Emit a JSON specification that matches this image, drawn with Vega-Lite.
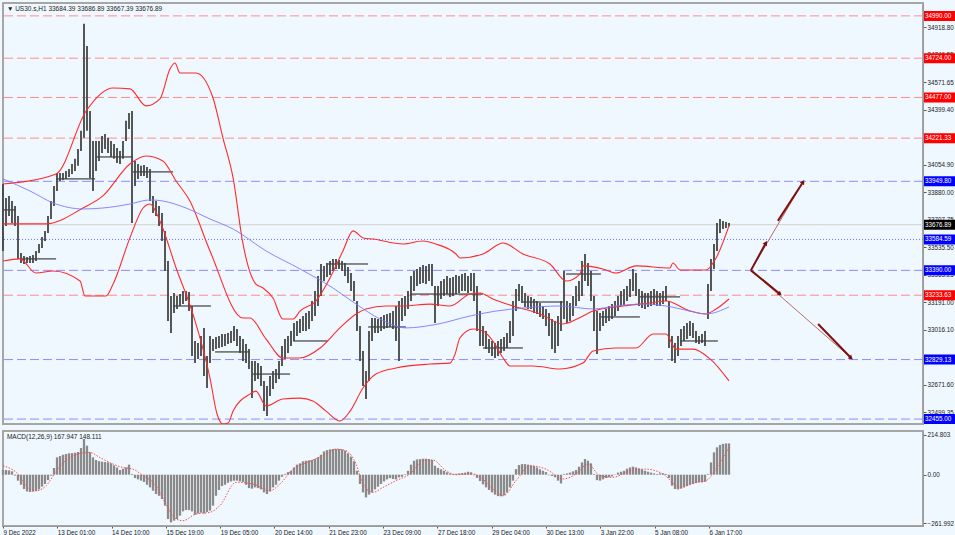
{
  "$schema": "https://vega.github.io/schema/vega-lite/v6.json",
  "background": "#F0F8FF",
  "padding": {"left": 0, "top": 2, "right": 0, "bottom": 0},
  "spacing": 4,
  "config": {
    "font": "Liberation Sans",
    "view": {"fill": "#F0F8FF", "stroke": "#a6a6a6", "strokeWidth": 2},
    "axis": {"labelFont": "Liberation Sans", "labelFontSize": 6.3, "labelColor": "#222222", "domainColor": "#9a9a9a", "tickColor": "#555555", "tickSize": 3, "grid": false, "title": null, "labelOverlap": false, "labelBound": false, "labelFlush": false},
    "axisQuantitative": {"labelOverlap": false}
  },
  "datasets": {
    "bars": [
      {"i":0,"h":33933,"l":33512,"m":25},{"i":1,"h":33845,"l":33669,"m":25},{"i":2,"h":33858,"l":33732,"m":23},{"i":3,"h":33826,"l":33688,"m":18},{"i":4,"h":33795,"l":33669,"m":-5},
      {"i":5,"h":33732,"l":33462,"m":-32},{"i":6,"h":33499,"l":33436,"m":-54},{"i":7,"h":33480,"l":33430,"m":-77},{"i":8,"h":33474,"l":33436,"m":-90},{"i":9,"h":33480,"l":33436,"m":-93},
      {"i":10,"h":33487,"l":33436,"m":-91},{"i":11,"h":33512,"l":33449,"m":-88},{"i":12,"h":33556,"l":33499,"m":-79},{"i":13,"h":33600,"l":33531,"m":-64},{"i":14,"h":33638,"l":33575,"m":-50},
      {"i":15,"h":33732,"l":33625,"m":-29},{"i":16,"h":33826,"l":33713,"m":-5},{"i":17,"h":33921,"l":33795,"m":36},{"i":18,"h":34002,"l":33889,"m":93},{"i":19,"h":34002,"l":33952,"m":100},
      {"i":20,"h":34002,"l":33958,"m":107},{"i":21,"h":34015,"l":33965,"m":111},{"i":22,"h":34028,"l":33977,"m":115},{"i":23,"h":34059,"l":33996,"m":116},{"i":24,"h":34091,"l":34015,"m":118},
      {"i":25,"h":34153,"l":34047,"m":122},{"i":26,"h":34267,"l":34141,"m":143},{"i":27,"h":34940,"l":34223,"m":192},{"i":28,"h":34801,"l":34267,"m":156},{"i":29,"h":34392,"l":33971,"m":120},
      {"i":30,"h":34204,"l":33889,"m":93},{"i":31,"h":34204,"l":34015,"m":79},{"i":32,"h":34204,"l":34078,"m":73},{"i":33,"h":34235,"l":34128,"m":70},{"i":34,"h":34248,"l":34153,"m":68},
      {"i":35,"h":34223,"l":34128,"m":66},{"i":36,"h":34204,"l":34103,"m":61},{"i":37,"h":34185,"l":34091,"m":50},{"i":38,"h":34160,"l":34065,"m":39},{"i":39,"h":34141,"l":34059,"m":25},
      {"i":40,"h":34204,"l":34091,"m":32},{"i":41,"h":34330,"l":34204,"m":39},{"i":42,"h":34380,"l":34279,"m":54},{"i":43,"h":34392,"l":33688,"m":4},{"i":44,"h":34078,"l":33921,"m":-18},
      {"i":45,"h":34059,"l":33965,"m":-25},{"i":46,"h":34047,"l":33984,"m":-32},{"i":47,"h":34053,"l":33984,"m":-39},{"i":48,"h":34040,"l":33971,"m":-54},{"i":49,"h":34028,"l":33826,"m":-68},
      {"i":50,"h":33858,"l":33751,"m":-86},{"i":51,"h":33826,"l":33732,"m":-104},{"i":52,"h":33795,"l":33669,"m":-113},{"i":53,"h":33751,"l":33575,"m":-131},{"i":54,"h":33638,"l":33386,"m":-166},
      {"i":55,"h":33449,"l":33072,"m":-238},{"i":56,"h":33229,"l":32996,"m":-256},{"i":57,"h":33248,"l":33122,"m":-247},{"i":58,"h":33229,"l":33147,"m":-238},{"i":59,"h":33241,"l":33166,"m":-220},
      {"i":60,"h":33260,"l":33178,"m":-197},{"i":61,"h":33260,"l":33197,"m":-190},{"i":62,"h":33254,"l":33134,"m":-190},{"i":63,"h":33166,"l":32851,"m":-197},{"i":64,"h":32946,"l":32807,"m":-215},
      {"i":65,"h":32933,"l":32833,"m":-208},{"i":66,"h":32977,"l":32851,"m":-204},{"i":67,"h":33028,"l":32726,"m":-208},{"i":68,"h":32851,"l":32650,"m":-200},{"i":69,"h":32977,"l":32807,"m":-193},
      {"i":70,"h":32958,"l":32883,"m":-166},{"i":71,"h":32971,"l":32895,"m":-113},{"i":72,"h":32977,"l":32902,"m":-82},{"i":73,"h":32990,"l":32908,"m":-61},{"i":74,"h":32990,"l":32914,"m":-54},
      {"i":75,"h":32996,"l":32927,"m":-43},{"i":76,"h":33009,"l":32933,"m":-36},{"i":77,"h":33040,"l":32946,"m":-32},{"i":78,"h":33021,"l":32914,"m":-32},{"i":79,"h":32977,"l":32870,"m":-36},
      {"i":80,"h":32958,"l":32820,"m":-39},{"i":81,"h":32927,"l":32807,"m":-54},{"i":82,"h":32895,"l":32770,"m":-72},{"i":83,"h":32820,"l":32587,"m":-75},{"i":84,"h":32820,"l":32694,"m":-68},
      {"i":85,"h":32807,"l":32707,"m":-72},{"i":86,"h":32789,"l":32663,"m":-79},{"i":87,"h":32694,"l":32505,"m":-95},{"i":88,"h":32663,"l":32474,"m":-104},{"i":89,"h":32726,"l":32600,"m":-90},
      {"i":90,"h":32757,"l":32644,"m":-68},{"i":91,"h":32770,"l":32682,"m":-54},{"i":92,"h":32820,"l":32707,"m":-32},{"i":93,"h":32914,"l":32789,"m":-11},{"i":94,"h":32958,"l":32833,"m":4},
      {"i":95,"h":32977,"l":32870,"m":14},{"i":96,"h":33009,"l":32914,"m":21},{"i":97,"h":33059,"l":32946,"m":39},{"i":98,"h":33072,"l":32977,"m":54},{"i":99,"h":33084,"l":32996,"m":61},
      {"i":100,"h":33103,"l":33009,"m":72},{"i":101,"h":33122,"l":33009,"m":75},{"i":102,"h":33134,"l":33021,"m":77},{"i":103,"h":33197,"l":33072,"m":79},{"i":104,"h":33260,"l":33103,"m":84},
      {"i":105,"h":33355,"l":33166,"m":93},{"i":106,"h":33430,"l":33229,"m":107},{"i":107,"h":33418,"l":33323,"m":125},{"i":108,"h":33436,"l":33348,"m":132},{"i":109,"h":33449,"l":33361,"m":136},
      {"i":110,"h":33462,"l":33386,"m":138},{"i":111,"h":33462,"l":33399,"m":138},{"i":112,"h":33455,"l":33399,"m":138},{"i":113,"h":33449,"l":33386,"m":136},{"i":114,"h":33436,"l":33355,"m":129},
      {"i":115,"h":33411,"l":33311,"m":115},{"i":116,"h":33373,"l":33260,"m":97},{"i":117,"h":33323,"l":33197,"m":72},{"i":118,"h":33197,"l":33009,"m":21},{"i":119,"h":33040,"l":32820,"m":-50},
      {"i":120,"h":32883,"l":32663,"m":-95},{"i":121,"h":32757,"l":32581,"m":-122},{"i":122,"h":33009,"l":32694,"m":-107},{"i":123,"h":33090,"l":32946,"m":-95},{"i":124,"h":33090,"l":32996,"m":-79},
      {"i":125,"h":33084,"l":32996,"m":-64},{"i":126,"h":33097,"l":33009,"m":-50},{"i":127,"h":33109,"l":33021,"m":-36},{"i":128,"h":33116,"l":33028,"m":-25},{"i":129,"h":33122,"l":33034,"m":-18},
      {"i":130,"h":33134,"l":33021,"m":-23},{"i":131,"h":33166,"l":32946,"m":-25},{"i":132,"h":33197,"l":32820,"m":-14},{"i":133,"h":33216,"l":33072,"m":-11},{"i":134,"h":33229,"l":33103,"m":3},
      {"i":135,"h":33260,"l":33147,"m":21},{"i":136,"h":33355,"l":33197,"m":54},{"i":137,"h":33386,"l":33260,"m":75},{"i":138,"h":33399,"l":33292,"m":82},{"i":139,"h":33411,"l":33304,"m":84},
      {"i":140,"h":33424,"l":33311,"m":86},{"i":141,"h":33418,"l":33304,"m":86},{"i":142,"h":33430,"l":33323,"m":84},{"i":143,"h":33430,"l":33292,"m":79},{"i":144,"h":33292,"l":33059,"m":48},
      {"i":145,"h":33292,"l":33166,"m":36},{"i":146,"h":33323,"l":33210,"m":29},{"i":147,"h":33336,"l":33229,"m":21},{"i":148,"h":33355,"l":33241,"m":13},{"i":149,"h":33342,"l":33223,"m":7},
      {"i":150,"h":33348,"l":33229,"m":4},{"i":151,"h":33361,"l":33241,"m":5},{"i":152,"h":33355,"l":33248,"m":7},{"i":153,"h":33367,"l":33260,"m":9},{"i":154,"h":33373,"l":33260,"m":11},
      {"i":155,"h":33355,"l":33248,"m":16},{"i":156,"h":33373,"l":33260,"m":13},{"i":157,"h":33373,"l":33197,"m":-3},{"i":158,"h":33292,"l":33009,"m":-17},{"i":159,"h":33134,"l":32914,"m":-34},
      {"i":160,"h":33040,"l":32914,"m":-52},{"i":161,"h":33009,"l":32895,"m":-68},{"i":162,"h":32958,"l":32870,"m":-82},{"i":163,"h":32946,"l":32851,"m":-95},{"i":164,"h":32933,"l":32839,"m":-107},
      {"i":165,"h":32946,"l":32851,"m":-115},{"i":166,"h":32958,"l":32870,"m":-116},{"i":167,"h":32971,"l":32883,"m":-111},{"i":168,"h":32996,"l":32902,"m":-95},{"i":169,"h":33072,"l":32933,"m":-68},
      {"i":170,"h":33197,"l":32977,"m":-32},{"i":171,"h":33273,"l":33134,"m":30},{"i":172,"h":33304,"l":33197,"m":52},{"i":173,"h":33292,"l":33185,"m":57},{"i":174,"h":33248,"l":33160,"m":57},
      {"i":175,"h":33229,"l":33147,"m":54},{"i":176,"h":33223,"l":33147,"m":50},{"i":177,"h":33210,"l":33122,"m":47},{"i":178,"h":33197,"l":33116,"m":39},{"i":179,"h":33185,"l":33097,"m":29},
      {"i":180,"h":33166,"l":33084,"m":21},{"i":181,"h":33147,"l":33040,"m":14},{"i":182,"h":33122,"l":32977,"m":-3},{"i":183,"h":33084,"l":32895,"m":-7},{"i":184,"h":33072,"l":32870,"m":-14},
      {"i":185,"h":33103,"l":32914,"m":-32},{"i":186,"h":33197,"l":33009,"m":-47},{"i":187,"h":33386,"l":33084,"m":4},{"i":188,"h":33197,"l":33059,"m":7},{"i":189,"h":33185,"l":33072,"m":11},
      {"i":190,"h":33229,"l":33103,"m":18},{"i":191,"h":33292,"l":33166,"m":25},{"i":192,"h":33323,"l":33197,"m":43},{"i":193,"h":33449,"l":33229,"m":66},{"i":194,"h":33493,"l":33323,"m":84},
      {"i":195,"h":33436,"l":33292,"m":75},{"i":196,"h":33386,"l":33197,"m":61},{"i":197,"h":33229,"l":33009,"m":4},{"i":198,"h":33134,"l":32864,"m":-29},{"i":199,"h":33122,"l":33009,"m":-32},
      {"i":200,"h":33134,"l":33040,"m":-25},{"i":201,"h":33147,"l":33059,"m":-18},{"i":202,"h":33166,"l":33072,"m":-14},{"i":203,"h":33178,"l":33084,"m":-9},{"i":204,"h":33197,"l":33103,"m":2},
      {"i":205,"h":33229,"l":33134,"m":11},{"i":206,"h":33260,"l":33166,"m":16},{"i":207,"h":33273,"l":33172,"m":21},{"i":208,"h":33292,"l":33197,"m":32},{"i":209,"h":33336,"l":33223,"m":39},
      {"i":210,"h":33399,"l":33260,"m":43},{"i":211,"h":33373,"l":33229,"m":39},{"i":212,"h":33273,"l":33166,"m":34},{"i":213,"h":33260,"l":33153,"m":29},{"i":214,"h":33248,"l":33147,"m":21},
      {"i":215,"h":33248,"l":33160,"m":16},{"i":216,"h":33260,"l":33166,"m":11},{"i":217,"h":33273,"l":33172,"m":7},{"i":218,"h":33260,"l":33166,"m":4},{"i":219,"h":33248,"l":33166,"m":7},
      {"i":220,"h":33260,"l":33178,"m":7},{"i":221,"h":33292,"l":33197,"m":4},{"i":222,"h":33197,"l":32902,"m":-18},{"i":223,"h":32977,"l":32820,"m":-59},{"i":224,"h":32933,"l":32807,"m":-77},
      {"i":225,"h":32977,"l":32851,"m":-79},{"i":226,"h":33021,"l":32914,"m":-75},{"i":227,"h":33040,"l":32946,"m":-68},{"i":228,"h":33059,"l":32958,"m":-61},{"i":229,"h":33072,"l":32977,"m":-54},
      {"i":230,"h":33059,"l":32965,"m":-50},{"i":231,"h":33009,"l":32933,"m":-45},{"i":232,"h":32977,"l":32927,"m":-41},{"i":233,"h":32990,"l":32933,"m":-41},{"i":234,"h":33009,"l":32914,"m":-38},
      {"i":235,"h":33304,"l":33084,"m":4},{"i":236,"h":33462,"l":33260,"m":66},{"i":237,"h":33556,"l":33399,"m":120},{"i":238,"h":33688,"l":33512,"m":147},{"i":239,"h":33713,"l":33625,"m":160},
      {"i":240,"h":33701,"l":33650,"m":166},{"i":241,"h":33694,"l":33657,"m":168},{"i":242,"h":33687,"l":33667,"m":168}
    ],
    "ind": [
      {"s":"up","i":0,"p":33933},{"s":"up","i":17.7,"p":33996},{"s":"up","i":27.7,"p":34392},{"s":"up","i":36.7,"p":34537},{"s":"up","i":42.3,"p":34531},{"s":"up","i":47.7,"p":34424},{"s":"up","i":52.3,"p":34468},{"s":"up","i":55.7,"p":34657},{"s":"up","i":57.3,"p":34694},{"s":"up","i":59,"p":34631},{"s":"up","i":64.3,"p":34631},{"s":"up","i":70,"p":34474},{"s":"up","i":73.3,"p":34223},{"s":"up","i":76.7,"p":33971},{"s":"up","i":80,"p":33556},{"s":"up","i":84.3,"p":33304},{"s":"up","i":86.7,"p":33279},{"s":"up","i":90,"p":33216},{"s":"up","i":93.3,"p":33084},{"s":"up","i":96.7,"p":33084},{"s":"up","i":99,"p":33134},{"s":"up","i":104.3,"p":33197},{"s":"up","i":109,"p":33342},{"s":"up","i":113.3,"p":33512},{"s":"up","i":116.7,"p":33638},{"s":"up","i":120,"p":33594},{"s":"up","i":123.3,"p":33587},{"s":"up","i":133.3,"p":33556},{"s":"up","i":140,"p":33575},{"s":"up","i":144.3,"p":33556},{"s":"up","i":151,"p":33493},{"s":"up","i":152.3,"p":33468},{"s":"up","i":160,"p":33493},{"s":"up","i":166.7,"p":33562},{"s":"up","i":173.3,"p":33493},{"s":"up","i":182.3,"p":33430},{"s":"up","i":187.7,"p":33323},{"s":"up","i":192.3,"p":33367},{"s":"up","i":193.3,"p":33418},{"s":"up","i":200,"p":33399},{"s":"up","i":204.3,"p":33373},{"s":"up","i":211,"p":33418},{"s":"up","i":222.3,"p":33405},{"s":"up","i":223.3,"p":33436},{"s":"up","i":225.7,"p":33392},{"s":"up","i":234.3,"p":33392},{"s":"up","i":237.7,"p":33468},{"s":"up","i":242,"p":33670},
      {"s":"mid","i":0,"p":33682},{"s":"mid","i":14.3,"p":33682},{"s":"mid","i":26.7,"p":33782},{"s":"mid","i":33.3,"p":33858},{"s":"mid","i":42.3,"p":34059},{"s":"mid","i":47.7,"p":34109},{"s":"mid","i":53.3,"p":34078},{"s":"mid","i":57.7,"p":33952},{"s":"mid","i":62.3,"p":33826},{"s":"mid","i":69,"p":33512},{"s":"mid","i":80,"p":33090},{"s":"mid","i":82.3,"p":33090},{"s":"mid","i":87.7,"p":32958},{"s":"mid","i":93.3,"p":32839},{"s":"mid","i":99,"p":32839},{"s":"mid","i":105.7,"p":32902},{"s":"mid","i":112.3,"p":33028},{"s":"mid","i":117.7,"p":33116},{"s":"mid","i":121,"p":33147},{"s":"mid","i":127.7,"p":33166},{"s":"mid","i":133.3,"p":33166},{"s":"mid","i":142.3,"p":33178},{"s":"mid","i":149,"p":33166},{"s":"mid","i":155.7,"p":33241},{"s":"mid","i":159,"p":33248},{"s":"mid","i":163.3,"p":33210},{"s":"mid","i":170,"p":33166},{"s":"mid","i":179,"p":33116},{"s":"mid","i":186.7,"p":33053},{"s":"mid","i":193.3,"p":33103},{"s":"mid","i":196.7,"p":33134},{"s":"mid","i":206.7,"p":33166},{"s":"mid","i":215.7,"p":33185},{"s":"mid","i":221,"p":33197},{"s":"mid","i":229,"p":33134},{"s":"mid","i":234.3,"p":33116},{"s":"mid","i":237.7,"p":33147},{"s":"mid","i":242,"p":33210},
      {"s":"low","i":0,"p":33449},{"s":"low","i":5.7,"p":33462},{"s":"low","i":11,"p":33373},{"s":"low","i":16.7,"p":33386},{"s":"low","i":25.7,"p":33323},{"s":"low","i":27.3,"p":33229},{"s":"low","i":34.3,"p":33229},{"s":"low","i":36.7,"p":33304},{"s":"low","i":42.3,"p":33594},{"s":"low","i":46.7,"p":33782},{"s":"low","i":49,"p":33807},{"s":"low","i":52.3,"p":33701},{"s":"low","i":57.7,"p":33405},{"s":"low","i":63.3,"p":33116},{"s":"low","i":69,"p":32713},{"s":"low","i":71.3,"p":32490},{"s":"low","i":73.3,"p":32424},{"s":"low","i":75,"p":32430},{"s":"low","i":76.7,"p":32505},{"s":"low","i":82.3,"p":32612},{"s":"low","i":84.3,"p":32631},{"s":"low","i":87.7,"p":32537},{"s":"low","i":93.3,"p":32581},{"s":"low","i":99,"p":32587},{"s":"low","i":103.3,"p":32568},{"s":"low","i":107.7,"p":32505},{"s":"low","i":112.3,"p":32443},{"s":"low","i":115.7,"p":32505},{"s":"low","i":120,"p":32650},{"s":"low","i":124.3,"p":32738},{"s":"low","i":131,"p":32776},{"s":"low","i":142.3,"p":32801},{"s":"low","i":149,"p":32807},{"s":"low","i":150.7,"p":32864},{"s":"low","i":152.3,"p":32965},{"s":"low","i":156.7,"p":33021},{"s":"low","i":160,"p":33009},{"s":"low","i":163.3,"p":32946},{"s":"low","i":166.7,"p":32839},{"s":"low","i":169,"p":32789},{"s":"low","i":176.7,"p":32789},{"s":"low","i":185.7,"p":32770},{"s":"low","i":193.3,"p":32807},{"s":"low","i":196.7,"p":32883},{"s":"low","i":204.3,"p":32902},{"s":"low","i":211,"p":32902},{"s":"low","i":216.7,"p":32990},{"s":"low","i":221,"p":32990},{"s":"low","i":224.3,"p":32895},{"s":"low","i":230,"p":32895},{"s":"low","i":235.7,"p":32833},{"s":"low","i":242,"p":32695},
      {"s":"ma","i":0,"p":33965},{"s":"ma","i":9,"p":33889},{"s":"ma","i":16.7,"p":33814},{"s":"ma","i":26.7,"p":33776},{"s":"ma","i":33.3,"p":33782},{"s":"ma","i":42.3,"p":33807},{"s":"ma","i":49,"p":33833},{"s":"ma","i":53.3,"p":33826},{"s":"ma","i":61,"p":33782},{"s":"ma","i":69,"p":33713},{"s":"ma","i":76.7,"p":33650},{"s":"ma","i":87.7,"p":33512},{"s":"ma","i":99,"p":33399},{"s":"ma","i":110,"p":33279},{"s":"ma","i":117.7,"p":33178},{"s":"ma","i":125.7,"p":33084},{"s":"ma","i":134.3,"p":33028},{"s":"ma","i":144.3,"p":33050},{"s":"ma","i":155.7,"p":33103},{"s":"ma","i":164.3,"p":33134},{"s":"ma","i":173.3,"p":33153},{"s":"ma","i":185.7,"p":33166},{"s":"ma","i":196.7,"p":33147},{"s":"ma","i":204.3,"p":33166},{"s":"ma","i":213.3,"p":33178},{"s":"ma","i":221,"p":33166},{"s":"ma","i":229,"p":33134},{"s":"ma","i":234.3,"p":33116},{"s":"ma","i":242,"p":33160}
    ],
    "seg": [
      {"a":0,"b":4.3,"p":33770},{"a":5.7,"b":17.7,"p":33462},{"a":17.7,"b":30.7,"p":33965},{"a":31,"b":43.3,"p":34103},{"a":43.3,"b":56.7,"p":34009},{"a":56.7,"b":69.3,"p":33166},
      {"a":70.7,"b":82.3,"p":32877},{"a":83.3,"b":95.7,"p":32738},{"a":96.7,"b":108.3,"p":32946},{"a":108.3,"b":121.7,"p":33430},{"a":121.7,"b":134.3,"p":33034},{"a":135.7,"b":160,"p":33241},
      {"a":160,"b":173.3,"p":32902},{"a":173.3,"b":186.7,"p":33191},{"a":187.7,"b":199.3,"p":33367},{"a":199.3,"b":212.3,"p":33097},{"a":212.3,"b":225.7,"p":33223},{"a":225.7,"b":238.3,"p":32946}
    ],
    "lvl": [
      {"p":34990,"k":"red"},{"p":34724,"k":"red"},{"p":34477,"k":"red"},{"p":34221.33,"k":"red"},{"p":33949.8,"k":"blue"},{"p":33676.89,"k":"cur"},
      {"p":33584.59,"k":"dot"},{"p":33390,"k":"blue"},{"p":33233.63,"k":"red"},{"p":32829.13,"k":"blue"},{"p":32455,"k":"blue"}
    ],
    "arr": [
      {"i":249.3,"p":33390,"i2":266.7,"p2":33946},
      {"i":249.3,"p":33390,"i2":282.7,"p2":32839}
    ],
    "arrs": [
      {"i":249.3,"p":33390,"i2":254.3,"p2":33562},
      {"i":258.3,"p":33701,"i2":266.7,"p2":33946},
      {"i":249.3,"p":33390,"i2":259,"p2":33241},
      {"i":271.7,"p":33053,"i2":282.7,"p2":32839}
    ],
    "head": [
      {"d":"up","i":266.7,"p":33946},{"d":"up","i":254.3,"p":33562},{"d":"dn","i":282.7,"p":32839},{"d":"dn","i":259,"p":33241}
    ],
    "sig": [
      {"i":0,"v":48},{"i":4.4,"v":13},{"i":8.9,"v":-77},{"i":11.1,"v":-86},{"i":14.4,"v":-59},{"i":17.8,"v":21},{"i":22.2,"v":93},{"i":28.9,"v":120},{"i":32.2,"v":93},{"i":36.7,"v":57},
      {"i":40,"v":39},{"i":43.3,"v":30},{"i":46.7,"v":-5},{"i":51,"v":-59},{"i":54.3,"v":-158},{"i":57.7,"v":-238},{"i":60,"v":-247},{"i":64.3,"v":-211},{"i":69,"v":-202},{"i":72.3,"v":-166},
      {"i":77.7,"v":-41},{"i":83.3,"v":-50},{"i":89,"v":-86},{"i":92.3,"v":-50},{"i":96.7,"v":30},{"i":102.3,"v":72},{"i":107.7,"v":111},{"i":111,"v":138},{"i":114.3,"v":129},{"i":117.7,"v":57},
      {"i":120,"v":-50},{"i":123.3,"v":-95},{"i":126.7,"v":-68},{"i":131,"v":-32},{"i":135.7,"v":4},{"i":140,"v":75},{"i":143.3,"v":79},{"i":147.7,"v":21},{"i":151,"v":0},{"i":156.7,"v":4},
      {"i":160,"v":-25},{"i":163.3,"v":-77},{"i":166.7,"v":-113},{"i":171,"v":-32},{"i":175.7,"v":48},{"i":181,"v":30},{"i":186.7,"v":-23},{"i":191,"v":4},{"i":195,"v":57},{"i":199,"v":-5},
      {"i":203.3,"v":-14},{"i":209,"v":21},{"i":214.3,"v":30},{"i":220,"v":4},{"i":225.7,"v":-68},{"i":231,"v":-41},{"i":234.3,"v":-32},{"i":239,"v":66},{"i":242,"v":148}
    ]
  },
  "vconcat": [
    {
      "width": 920,
      "height": 421,
      "layer": [
        {
          "data": {"name": "lvl"},
          "mark": {"type": "rule", "strokeWidth": 1},
          "encoding": {
            "y": {"field": "p", "type": "quantitative", "scale": {"domain": [32424, 35071], "nice": false, "zero": false},
              "axis": {"orient": "right", "values": [34918.8, 34746.55, 34571.65, 34399.4, 34054.9, 33880, 33707.75, 33535.5, 33363.25, 33191, 33016.1, 32843.85, 32671.6, 32499.35], "format": ".2f", "labelAlign": "left", "labelBaseline": "middle", "labelPadding": 1, "labelOverlap": false}},
            "stroke": {"field": "k", "type": "nominal", "scale": {"domain": ["red", "blue", "dot", "cur"], "range": ["#ff8c8c", "#8c8cff", "#6f6fff", "#cfcfcf"]}, "legend": null},
            "strokeDash": {"field": "k", "type": "nominal", "scale": {"domain": ["red", "blue", "dot", "cur"], "range": [[9, 4], [9, 4], [1, 2], [1, 0]]}, "legend": null}
          }
        },
        {
          "data": {"name": "seg"},
          "mark": {"type": "rule", "color": "#1a1a1a", "strokeWidth": 1},
          "encoding": {
            "x": {"field": "a", "type": "quantitative", "scale": {"domain": [0, 306.67], "nice": false, "zero": false}, "axis": null},
            "x2": {"field": "b"},
            "y": {"field": "p", "type": "quantitative", "axis": {"orient": "right", "values": [34918.8, 34746.55, 34571.65, 34399.4, 34054.9, 33880, 33707.75, 33535.5, 33363.25, 33191, 33016.1, 32843.85, 32671.6, 32499.35], "format": ".2f", "labelAlign": "left", "labelBaseline": "middle", "labelPadding": 1, "labelOverlap": false}}
          }
        },
        {
          "data": {"name": "bars"},
          "mark": {"type": "rule", "color": "#444444", "strokeWidth": 1.8},
          "encoding": {
            "x": {"field": "i", "type": "quantitative", "scale": {"domain": [0, 306.67], "nice": false, "zero": false}, "axis": null},
            "y": {"field": "l", "type": "quantitative", "axis": {"orient": "right", "values": [34918.8, 34746.55, 34571.65, 34399.4, 34054.9, 33880, 33707.75, 33535.5, 33363.25, 33191, 33016.1, 32843.85, 32671.6, 32499.35], "format": ".2f", "labelAlign": "left", "labelBaseline": "middle", "labelPadding": 1, "labelOverlap": false}},
            "y2": {"field": "h"}
          }
        },
        {
          "data": {"name": "ind"},
          "transform": [{"filter": "datum.s != 'ma'"}],
          "mark": {"type": "line", "interpolate": "monotone", "color": "#ff2a2a", "strokeWidth": 1.1, "clip": true},
          "encoding": {
            "x": {"field": "i", "type": "quantitative", "scale": {"domain": [0, 306.67], "nice": false, "zero": false}, "axis": null},
            "y": {"field": "p", "type": "quantitative", "axis": {"orient": "right", "values": [34918.8, 34746.55, 34571.65, 34399.4, 34054.9, 33880, 33707.75, 33535.5, 33363.25, 33191, 33016.1, 32843.85, 32671.6, 32499.35], "format": ".2f", "labelAlign": "left", "labelBaseline": "middle", "labelPadding": 1, "labelOverlap": false}},
            "detail": {"field": "s"}
          }
        },
        {
          "data": {"name": "ind"},
          "transform": [{"filter": "datum.s == 'ma'"}],
          "mark": {"type": "line", "interpolate": "monotone", "color": "#7b7bff", "strokeWidth": 0.9, "clip": true},
          "encoding": {
            "x": {"field": "i", "type": "quantitative", "scale": {"domain": [0, 306.67], "nice": false, "zero": false}, "axis": null},
            "y": {"field": "p", "type": "quantitative", "axis": {"orient": "right", "values": [34918.8, 34746.55, 34571.65, 34399.4, 34054.9, 33880, 33707.75, 33535.5, 33363.25, 33191, 33016.1, 32843.85, 32671.6, 32499.35], "format": ".2f", "labelAlign": "left", "labelBaseline": "middle", "labelPadding": 1, "labelOverlap": false}}
          }
        },
        {
          "data": {"name": "arr"},
          "mark": {"type": "rule", "color": "#b86a6a", "strokeWidth": 1},
          "encoding": {
            "x": {"field": "i", "type": "quantitative", "scale": {"domain": [0, 306.67], "nice": false, "zero": false}, "axis": null},
            "y": {"field": "p", "type": "quantitative", "axis": {"orient": "right", "values": [34918.8, 34746.55, 34571.65, 34399.4, 34054.9, 33880, 33707.75, 33535.5, 33363.25, 33191, 33016.1, 32843.85, 32671.6, 32499.35], "format": ".2f", "labelAlign": "left", "labelBaseline": "middle", "labelPadding": 1, "labelOverlap": false}},
            "x2": {"field": "i2"},
            "y2": {"field": "p2"}
          }
        },
        {
          "data": {"name": "arrs"},
          "mark": {"type": "rule", "color": "#7e1010", "strokeWidth": 2},
          "encoding": {
            "x": {"field": "i", "type": "quantitative", "scale": {"domain": [0, 306.67], "nice": false, "zero": false}, "axis": null},
            "y": {"field": "p", "type": "quantitative", "axis": {"orient": "right", "values": [34918.8, 34746.55, 34571.65, 34399.4, 34054.9, 33880, 33707.75, 33535.5, 33363.25, 33191, 33016.1, 32843.85, 32671.6, 32499.35], "format": ".2f", "labelAlign": "left", "labelBaseline": "middle", "labelPadding": 1, "labelOverlap": false}},
            "x2": {"field": "i2"},
            "y2": {"field": "p2"}
          }
        },
        {
          "data": {"name": "head"},
          "transform": [{"filter": "datum.d == 'up'"}],
          "mark": {"type": "point", "shape": "triangle-up", "filled": true, "color": "#7e1010", "opacity": 1, "size": 26, "angle": 31},
          "encoding": {
            "x": {"field": "i", "type": "quantitative", "scale": {"domain": [0, 306.67], "nice": false, "zero": false}, "axis": null},
            "y": {"field": "p", "type": "quantitative", "axis": {"orient": "right", "values": [34918.8, 34746.55, 34571.65, 34399.4, 34054.9, 33880, 33707.75, 33535.5, 33363.25, 33191, 33016.1, 32843.85, 32671.6, 32499.35], "format": ".2f", "labelAlign": "left", "labelBaseline": "middle", "labelPadding": 1, "labelOverlap": false}}
          }
        },
        {
          "data": {"name": "head"},
          "transform": [{"filter": "datum.d == 'dn'"}],
          "mark": {"type": "point", "shape": "triangle-up", "filled": true, "color": "#7e1010", "opacity": 1, "size": 26, "angle": 131},
          "encoding": {
            "x": {"field": "i", "type": "quantitative", "scale": {"domain": [0, 306.67], "nice": false, "zero": false}, "axis": null},
            "y": {"field": "p", "type": "quantitative", "axis": {"orient": "right", "values": [34918.8, 34746.55, 34571.65, 34399.4, 34054.9, 33880, 33707.75, 33535.5, 33363.25, 33191, 33016.1, 32843.85, 32671.6, 32499.35], "format": ".2f", "labelAlign": "left", "labelBaseline": "middle", "labelPadding": 1, "labelOverlap": false}}
          }
        },
        {
          "data": {"name": "lvl"},
          "mark": {"type": "rect", "yOffset": -5, "y2Offset": 5, "clip": false},
          "encoding": {
            "x": {"datum": 307, "type": "quantitative", "scale": {"domain": [0, 306.67], "nice": false, "zero": false}, "axis": null},
            "x2": {"datum": 318},
            "y": {"field": "p", "type": "quantitative", "axis": {"orient": "right", "values": [34918.8, 34746.55, 34571.65, 34399.4, 34054.9, 33880, 33707.75, 33535.5, 33363.25, 33191, 33016.1, 32843.85, 32671.6, 32499.35], "format": ".2f", "labelAlign": "left", "labelBaseline": "middle", "labelPadding": 1, "labelOverlap": false}},
            "y2": {"field": "p"},
            "fill": {"field": "k", "type": "nominal", "scale": {"domain": ["red", "blue", "dot", "cur"], "range": ["#ff0000", "#0000ff", "#0000ff", "#000000"]}, "legend": null}
          }
        },
        {
          "data": {"name": "lvl"},
          "mark": {"type": "text", "align": "left", "baseline": "middle", "color": "#ffffff", "fontSize": 6.3, "dx": 1, "clip": false},
          "encoding": {
            "x": {"datum": 307, "type": "quantitative", "scale": {"domain": [0, 306.67], "nice": false, "zero": false}, "axis": null},
            "y": {"field": "p", "type": "quantitative", "axis": {"orient": "right", "values": [34918.8, 34746.55, 34571.65, 34399.4, 34054.9, 33880, 33707.75, 33535.5, 33363.25, 33191, 33016.1, 32843.85, 32671.6, 32499.35], "format": ".2f", "labelAlign": "left", "labelBaseline": "middle", "labelPadding": 1, "labelOverlap": false}},
            "text": {"field": "p", "type": "quantitative", "format": ".2f"}
          }
        },
        {
          "data": {"values": [{}]},
          "mark": {"type": "text", "text": "▼ US30.s,H1  33684.39 33686.89 33667.39 33676.89", "align": "left", "baseline": "middle", "fontSize": 6.5, "color": "#222222"},
          "encoding": {
            "x": {"datum": 1.3, "type": "quantitative", "scale": {"domain": [0, 306.67], "nice": false, "zero": false}, "axis": null},
            "y": {"datum": 35036, "type": "quantitative", "axis": {"orient": "right", "values": [34918.8, 34746.55, 34571.65, 34399.4, 34054.9, 33880, 33707.75, 33535.5, 33363.25, 33191, 33016.1, 32843.85, 32671.6, 32499.35], "format": ".2f", "labelAlign": "left", "labelBaseline": "middle", "labelPadding": 1, "labelOverlap": false}}
          }
        }
      ]
    },
    {
      "width": 920,
      "height": 95,
      "layer": [
        {
          "data": {"name": "bars"},
          "mark": {"type": "rule", "color": "#8a8a8a", "strokeWidth": 2.3},
          "encoding": {
            "x": {"field": "i", "type": "quantitative", "scale": {"domain": [0, 306.67], "nice": false, "zero": false},
              "axis": {"values": [0, 18.1, 36.2, 54.3, 72.4, 90.5, 108.6, 126.7, 144.8, 162.9, 181, 199.1, 217.2, 235.3],
                "labelExpr": "['9 Dec 2022','13 Dec 01:00','14 Dec 10:00','15 Dec 19:00','19 Dec 05:00','20 Dec 14:00','21 Dec 23:00','23 Dec 09:00','27 Dec 18:00','29 Dec 04:00','30 Dec 13:00','3 Jan 22:00','5 Jan 08:00','6 Jan 17:00'][round(datum.value / 18.1)]",
                "labelAlign": "left", "tickSize": 2, "labelPadding": 1, "labelOverlap": false}},
            "y": {"field": "m", "type": "quantitative", "scale": {"domain": [-275.5, 234.7], "nice": false, "zero": false},
              "axis": {"orient": "right", "values": [214.803, 0, -261.992], "labelExpr": "datum.value == 0 ? '0.00' : format(datum.value, '.3f')", "labelAlign": "left", "labelBaseline": "middle", "labelPadding": 1, "labelOverlap": false}},
            "y2": {"datum": 0}
          }
        },
        {
          "data": {"name": "sig"},
          "mark": {"type": "line", "interpolate": "monotone", "color": "#ff4a4a", "strokeWidth": 1, "strokeDash": [1.5, 1.5], "clip": true},
          "encoding": {
            "x": {"field": "i", "type": "quantitative", "scale": {"domain": [0, 306.67], "nice": false, "zero": false}},
            "y": {"field": "v", "type": "quantitative"}
          }
        },
        {
          "data": {"values": [{}]},
          "mark": {"type": "text", "text": "MACD(12,26,9) 167.947 148.111", "align": "left", "baseline": "middle", "fontSize": 6.5, "color": "#222222"},
          "encoding": {
            "x": {"datum": 1.3, "type": "quantitative", "scale": {"domain": [0, 306.67], "nice": false, "zero": false}},
            "y": {"datum": 205, "type": "quantitative"}
          }
        }
      ]
    }
  ]
}
